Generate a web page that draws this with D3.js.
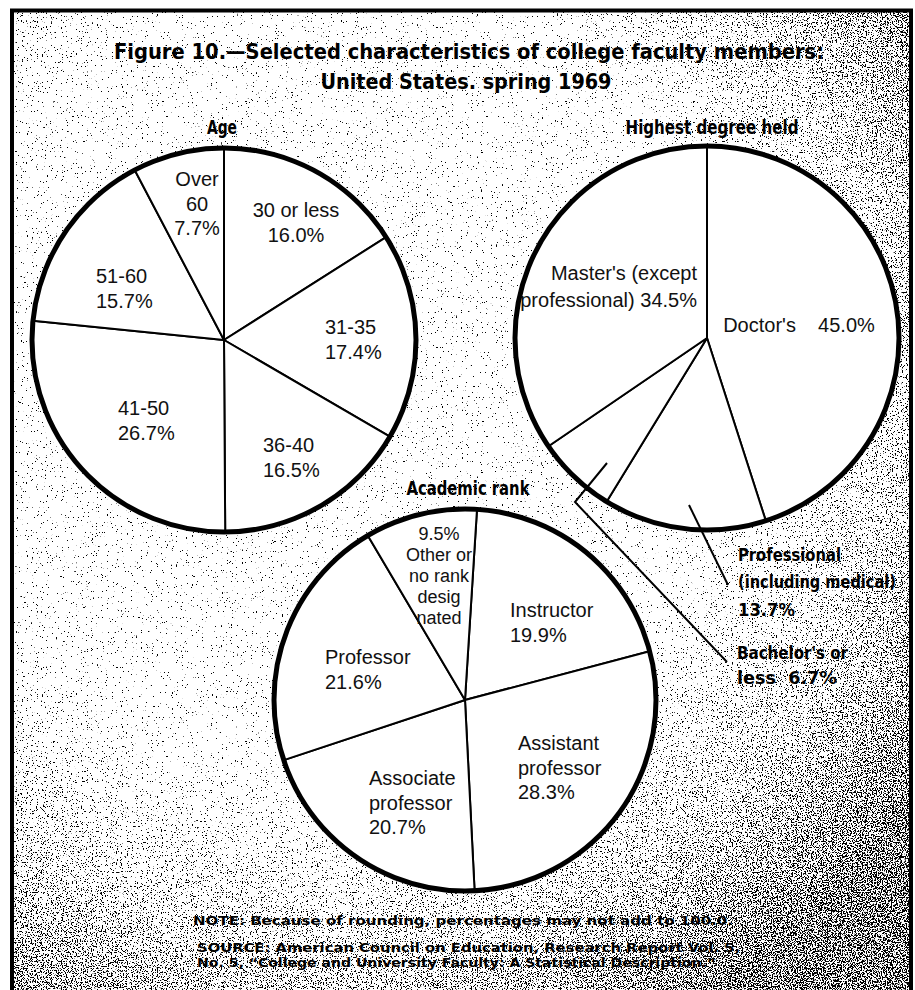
<!DOCTYPE html>
<html>
<head>
<meta charset="utf-8">
<script src="https://cdn.jsdelivr.net/npm/d3@7"></script>
<style>
  body { margin: 0; background: #fff; }
  svg { display: block; }
  .slice-label { font-family: "Liberation Sans", Arial, sans-serif; font-size: 20px; fill: #111; }
  .head { font-family: "DejaVu Sans Condensed", "DejaVu Sans", sans-serif; font-weight: bold; fill: #000; }
</style>
</head>
<body>
<div id="chart"></div>
<script>
// values
var ageCategories = ["30 or less", "31-35", "36-40", "41-50", "51-60", "Over 60"];
var ageValues = [16.0, 17.4, 16.5, 26.7, 15.7, 7.7];

var degreeCategories = ["Doctor's", "Professional (including medical)", "Bachelor's or less", "Master's (except professional)"];
var degreeValues = [45.0, 13.7, 6.7, 34.5];

var rankCategories = ["Instructor", "Assistant professor", "Associate professor", "Professor", "Other or no rank designated"];
var rankValues = [19.9, 28.3, 20.7, 21.6, 9.5];

var titleLines = ["Figure 10.\u2014Selected characteristics of college faculty members:", "United States. spring 1969"];
var pieTitles = ["Age", "Highest degree held", "Academic rank"];
var noteLines = [
  "NOTE: Because of rounding, percentages may not add to 100.0.",
  "SOURCE: American Council on Education, Research Report Vol. 5,",
  "No. 5, \u201cCollege and University Faculty: A Statistical Description.\u201d"
];

var svgWidth = 915;
var svgHeight = 990;

var svg = d3.select("#chart")
  .append("svg")
  .attr("width", svgWidth)
  .attr("height", svgHeight);

var defs = svg.append("defs");

// stipple background: noise + position-dependent density, thresholded
var grad = defs.append("radialGradient")
  .attr("id", "density")
  .attr("gradientUnits", "userSpaceOnUse")
  .attr("cx", 330).attr("cy", 380).attr("r", 720);
[[0, 0], [0.55, 0], [0.78, 24], [1, 56]].forEach(function(s) {
  grad.append("stop").attr("offset", s[0]).attr("stop-color", d3.rgb(s[1], s[1], s[1]));
});

var filter = defs.append("filter")
  .attr("id", "speckle")
  .attr("x", 0).attr("y", 0).attr("width", 1).attr("height", 1)
  .attr("color-interpolation-filters", "sRGB");
filter.append("feTurbulence")
  .attr("type", "fractalNoise")
  .attr("baseFrequency", 0.8)
  .attr("numOctaves", 2)
  .attr("seed", 4)
  .attr("result", "noise");
filter.append("feColorMatrix")
  .attr("in", "noise")
  .attr("type", "matrix")
  .attr("values", "1 0 0 0 0  0 1 0 0 0  0 0 1 0 0  0 0 0 0 1")
  .attr("result", "opaque");
filter.append("feComposite")
  .attr("in", "opaque").attr("in2", "SourceGraphic")
  .attr("operator", "arithmetic")
  .attr("k1", 0).attr("k2", 1).attr("k3", 1).attr("k4", 0)
  .attr("result", "sum");
filter.append("feColorMatrix")
  .attr("in", "sum")
  .attr("type", "matrix")
  .attr("values", "0 0 0 0 0  0 0 0 0 0  0 0 0 0 0  30 0 0 0 -21.3");

svg.append("rect")
  .attr("x", 12).attr("y", 10)
  .attr("width", 900).attr("height", 990)
  .attr("fill", "url(#density)")
  .attr("filter", "url(#speckle)");

// frame
svg.append("path")
  .attr("d", "M12,1000 V10.5 H911 V1000")
  .attr("fill", "none")
  .attr("stroke", "#000")
  .attr("stroke-width", 4);

// title
var titleGroup = svg.append("g").attr("class", "head");
titleGroup.append("text")
  .attr("x", 469).attr("y", 52).attr("dy", "0.35em")
  .attr("text-anchor", "middle")
  .attr("font-size", 21)
  .attr("textLength", 710).attr("lengthAdjust", "spacingAndGlyphs")
  .text(titleLines[0]);
titleGroup.append("text")
  .attr("x", 466).attr("y", 82).attr("dy", "0.35em")
  .attr("text-anchor", "middle")
  .attr("font-size", 21)
  .attr("textLength", 291).attr("lengthAdjust", "spacingAndGlyphs")
  .text(titleLines[1]);

var fmt = function(v) { return d3.format(".1f")(v) + "%"; };

// label placement relative to each pie's centre
var ageLayout = {
  "30 or less": { lines: ["30 or less", "{v}"], x: 72, y: -130, anchor: "middle" },
  "31-35": { lines: ["31-35", "{v}"], x: 101, y: -13, anchor: "start" },
  "36-40": { lines: ["36-40", "{v}"], x: 39, y: 105, anchor: "start" },
  "41-50": { lines: ["41-50", "{v}"], x: -106, y: 68, anchor: "start" },
  "51-60": { lines: ["51-60", "{v}"], x: -128, y: -64, anchor: "start" },
  "Over 60": { lines: ["Over", "60", "{v}"], x: -27, y: -161, anchor: "middle" }
};

var degreeLayout = {
  "Doctor's": { lines: ["Doctor's\u00a0\u00a0\u00a0\u00a0{v}"], x: 92, y: -13, anchor: "middle" },
  "Master's (except professional)": { lines: ["Master's (except", "professional) {v}"], x: -10, y: -65, anchor: "end", lh: 27 },
  "Professional (including medical)": {
    lines: ["Professional", "(including medical)", "{v}"], widths: [103, 158, 57],
    x: 31, y: 217, anchor: "start", lh: 27.5, outside: true,
    leader: [[-18, 167], [21, 247]]
  },
  "Bachelor's or less": {
    lines: ["Bachelor's or", "less\u00a0\u00a0{v}"], widths: [111, 100],
    x: 30, y: 315, anchor: "start", lh: 25, outside: true,
    leader: [[-100, 125], [-132, 164], [20, 324]]
  }
};

var rankLayout = {
  "Instructor": { lines: ["Instructor", "{v}"], x: 45, y: -90, anchor: "start" },
  "Assistant professor": { lines: ["Assistant", "professor", "{v}"], x: 53, y: 43, anchor: "start" },
  "Associate professor": { lines: ["Associate", "professor", "{v}"], x: -96, y: 78, anchor: "start" },
  "Professor": { lines: ["Professor", "{v}"], x: -140, y: -43, anchor: "start" },
  "Other or no rank designated": { lines: ["{v}", "Other or", "no rank", "desig", "nated"], x: -26, y: -166, anchor: "middle", lh: 21, fs: 18 }
};

function drawPie(cx, cy, r, cats, vals, start, layout, heading) {
  var data = cats.map(function(c, i) { return { category: c, value: vals[i] }; });
  var pie = d3.pie().sort(null).value(d => d.value)
    .startAngle(start).endAngle(start + 2 * Math.PI);
  var arc = d3.arc().innerRadius(0).outerRadius(r);

  var g = svg.append("g").attr("transform", `translate(${cx}, ${cy})`);

  g.selectAll("path.slice")
    .data(pie(data))
    .enter()
    .append("path")
    .attr("class", "slice")
    .attr("d", arc)
    .attr("fill", "#fff")
    .attr("stroke", "#000")
    .attr("stroke-width", 2)
    .attr("stroke-linejoin", "round");

  g.append("circle")
    .attr("r", r)
    .attr("fill", "none")
    .attr("stroke", "#000")
    .attr("stroke-width", 5);

  g.append("text")
    .attr("class", "head")
    .attr("x", heading.x).attr("y", heading.y).attr("dy", "0.35em")
    .attr("text-anchor", "middle")
    .attr("font-size", 19)
    .attr("textLength", heading.w).attr("lengthAdjust", "spacingAndGlyphs")
    .text(heading.text);

  data.forEach(function(d) {
    var L = layout[d.category];
    var lh = L.lh || 24.5;
    if (L.leader) {
      g.append("path")
        .attr("d", d3.line()(L.leader))
        .attr("fill", "none")
        .attr("stroke", "#000")
        .attr("stroke-width", 2);
    }
    L.lines.forEach(function(line, i) {
      var t = g.append("text")
        .attr("class", L.outside ? "head" : "slice-label")
        .attr("x", L.x)
        .attr("y", L.y + i * lh)
        .attr("dy", "0.35em")
        .attr("text-anchor", L.anchor)
        .text(line.replace("{v}", fmt(d.value)));
      if (L.fs) t.style("font-size", L.fs + "px");
      if (L.outside) {
        t.attr("font-size", 17)
          .attr("textLength", L.widths[i])
          .attr("lengthAdjust", "spacingAndGlyphs");
      }
    });
  });
}

drawPie(224, 340, 192, ageCategories, ageValues, 0, ageLayout,
  { text: pieTitles[0], x: -2, y: -213, w: 30 });
drawPie(707, 338, 192, degreeCategories, degreeValues, 0, degreeLayout,
  { text: pieTitles[1], x: 5, y: -211, w: 173 });
drawPie(465, 700, 191, rankCategories, rankValues, 3.6 * Math.PI / 180, rankLayout,
  { text: pieTitles[2], x: 3, y: -212, w: 123 });

// notes
var notes = svg.append("g").attr("class", "head").attr("font-size", 13);
[[193, 920, 540], [197, 947, 543], [197, 962, 519]].forEach(function(p, i) {
  notes.append("text")
    .attr("x", p[0]).attr("y", p[1]).attr("dy", "0.35em")
    .attr("textLength", p[2]).attr("lengthAdjust", "spacingAndGlyphs")
    .text(noteLines[i]);
});
</script>
</body>
</html>
